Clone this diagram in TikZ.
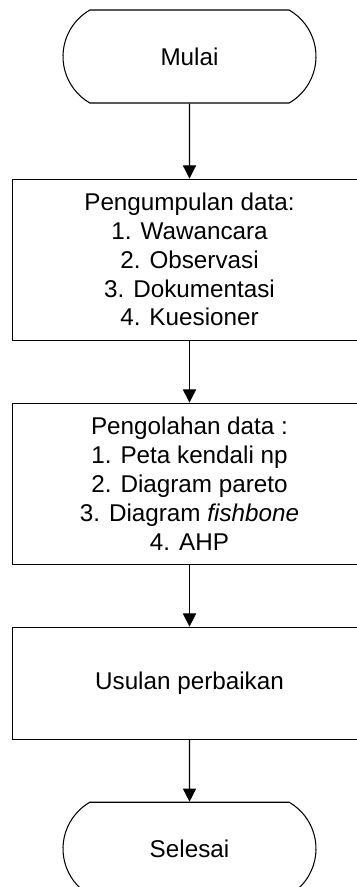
\documentclass[tikz,border=0pt]{standalone}
\usepackage{fontspec}
\setmainfont{Liberation Sans}
\usetikzlibrary{positioning,arrows.meta,shapes.misc}

\begin{document}
\begin{tikzpicture}[
      box/.style={draw, line width=0.6pt, align=center, font=\fontsize{13.8}{16.4}\selectfont,
                  minimum width=7.094cm, inner sep=0pt},
      ujung/.style={draw, line width=0.6pt, rounded rectangle, rounded rectangle arc length=120,
                  minimum width=5.06cm, minimum height=1.86cm, inner sep=0pt,
                  font=\fontsize{13.8}{16.4}\selectfont},
      arr/.style={-{Triangle[width=7.5pt,length=7.5pt]}, line width=0.6pt}]
    \clip (0,0) rectangle (7.14,-17.74);
    \node[ujung] (mulai) at (3.79,-1.13) {Mulai};
    \node[box, minimum height=3.22cm, below=1.5cm of mulai] (kumpul) {Pengumpulan data:\\
      1. Wawancara\\
      2. Observasi\\
      3. Dokumentasi\\
      4. Kuesioner};
    \node[box, minimum height=3.22cm, below=1.24cm of kumpul] (olah) {Pengolahan data :\\
      1. Peta kendali np\\
      2. Diagram pareto\\
      3. Diagram \textit{fishbone}\\
      4. AHP};
    \node[box, minimum height=2.24cm, below=1.24cm of olah] (usulan) {Usulan perbaikan};
    \node[ujung, below=1.24cm of usulan] (selesai) {Selesai};
    \draw[arr] (mulai) -- (kumpul); \draw[arr] (kumpul) -- (olah);
    \draw[arr] (olah) -- (usulan); \draw[arr] (usulan) -- (selesai);
  \end{tikzpicture}
\end{document}
